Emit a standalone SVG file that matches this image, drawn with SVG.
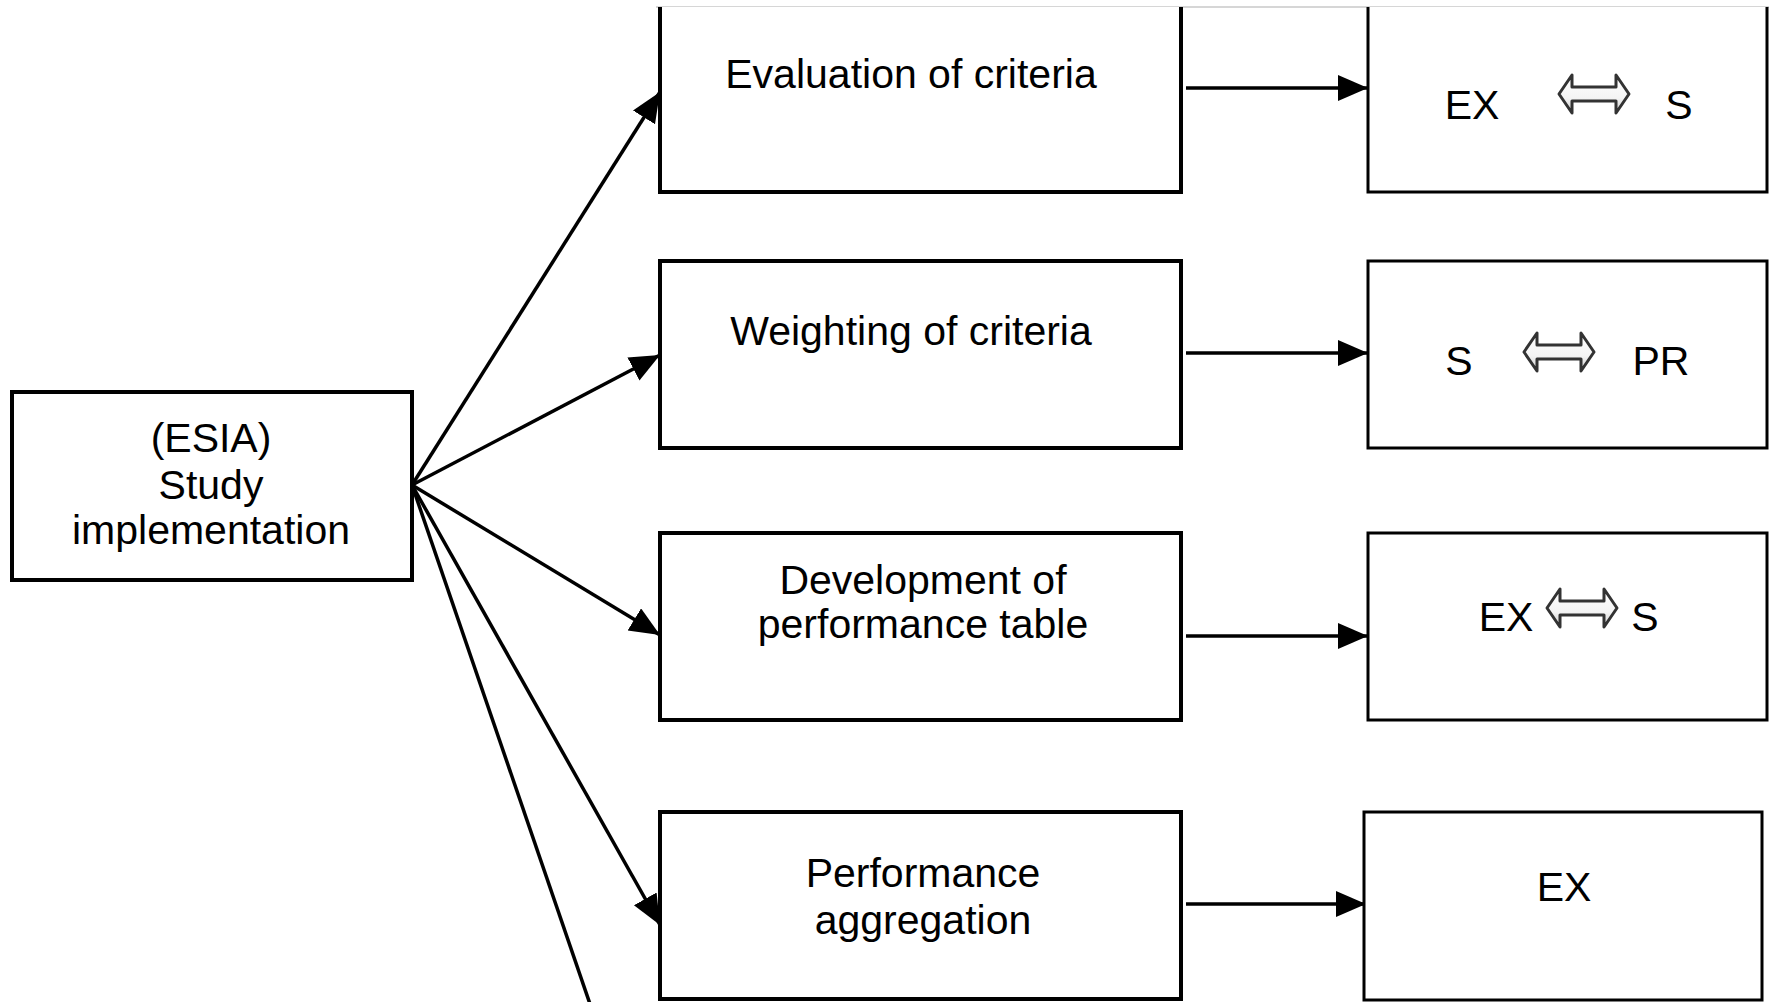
<svg xmlns="http://www.w3.org/2000/svg" width="1769" height="1002" viewBox="0 0 1769 1002">
<style>
.box{fill:#fff;stroke:#000;stroke-width:4}
.rbox{fill:#fff;stroke:#000;stroke-width:3}
.lbl{font-family:"Liberation Sans",Arial,sans-serif;font-size:41px;fill:#000;text-anchor:middle}
.conn{stroke:#000;stroke-width:3.5;fill:none}
.dbl{fill:url(#g);stroke:#333;stroke-width:3;stroke-linejoin:round}
</style>
<defs>
<marker id="ah" markerUnits="userSpaceOnUse" markerWidth="32" markerHeight="28" refX="30" refY="13" orient="auto">
<path d="M0,0 L30,13 L0,26 Z" fill="#000"/>
</marker>
<linearGradient id="g" x1="0" y1="0" x2="0" y2="1">
<stop offset="0" stop-color="#fff"/>
<stop offset="0.6" stop-color="#f4f4f4"/>
<stop offset="1" stop-color="#ccc"/>
</linearGradient>
<path id="dblarrow" class="dbl" d="M-35,0 L-22,-19 L-22,-7 L22,-7 L22,-19 L35,0 L22,19 L22,7 L-22,7 L-22,19 Z"/>
</defs>
<rect width="1769" height="1002" fill="#fff"/>
<line x1="656" y1="7" x2="1769" y2="7" stroke="#c8c8c8" stroke-width="1.5"/>
<g id="connectors">
<line class="conn" x1="412" y1="485" x2="660" y2="92" marker-end="url(#ah)"/>
<line class="conn" x1="412" y1="485" x2="660" y2="355" marker-end="url(#ah)"/>
<line class="conn" x1="412" y1="485" x2="660" y2="635" marker-end="url(#ah)"/>
<line class="conn" x1="412" y1="485" x2="660" y2="925" marker-end="url(#ah)"/>
<line class="conn" x1="412" y1="485" x2="590" y2="1004"/>
<line class="conn" x1="1186" y1="88" x2="1368" y2="88" marker-end="url(#ah)"/>
<line class="conn" x1="1186" y1="353" x2="1368" y2="353" marker-end="url(#ah)"/>
<line class="conn" x1="1186" y1="636" x2="1368" y2="636" marker-end="url(#ah)"/>
<line class="conn" x1="1186" y1="904" x2="1366" y2="904" marker-end="url(#ah)"/>
</g>
<g id="esia">
<rect class="box" x="12" y="392" width="400" height="188"/>
<text class="lbl" x="211" y="452">(ESIA)</text>
<text class="lbl" x="211" y="499">Study</text>
<text class="lbl" x="211" y="544">implementation</text>
</g>
<g id="evaluation">
<path class="box" d="M660,7 L660,192 L1181,192 L1181,7"/>
<text class="lbl" x="911" y="88">Evaluation of criteria</text>
</g>
<g id="weighting">
<rect class="box" x="660" y="261" width="521" height="187"/>
<text class="lbl" x="911" y="345">Weighting of criteria</text>
</g>
<g id="development">
<rect class="box" x="660" y="533" width="521" height="187"/>
<text class="lbl" x="923" y="594">Development of</text>
<text class="lbl" x="923" y="638">performance table</text>
</g>
<g id="aggregation">
<rect class="box" x="660" y="812" width="521" height="187"/>
<text class="lbl" x="923" y="887">Performance</text>
<text class="lbl" x="923" y="934">aggregation</text>
</g>
<g id="r1">
<path class="rbox" d="M1368,7 L1368,192 L1767,192 L1767,7"/>
<text class="lbl" x="1472" y="119">EX</text>
<use href="#dblarrow" x="1594" y="94"/>
<text class="lbl" x="1679" y="119">S</text>
</g>
<g id="r2">
<rect class="rbox" x="1368" y="261" width="399" height="187"/>
<text class="lbl" x="1459" y="375">S</text>
<use href="#dblarrow" x="1559" y="352"/>
<text class="lbl" x="1661" y="375">PR</text>
</g>
<g id="r3">
<rect class="rbox" x="1368" y="533" width="399" height="187"/>
<text class="lbl" x="1506" y="631">EX</text>
<use href="#dblarrow" x="1582" y="608"/>
<text class="lbl" x="1645" y="631">S</text>
</g>
<g id="r4">
<rect class="rbox" x="1364" y="812" width="398" height="188"/>
<text class="lbl" x="1564" y="901">EX</text>
</g>
</svg>
